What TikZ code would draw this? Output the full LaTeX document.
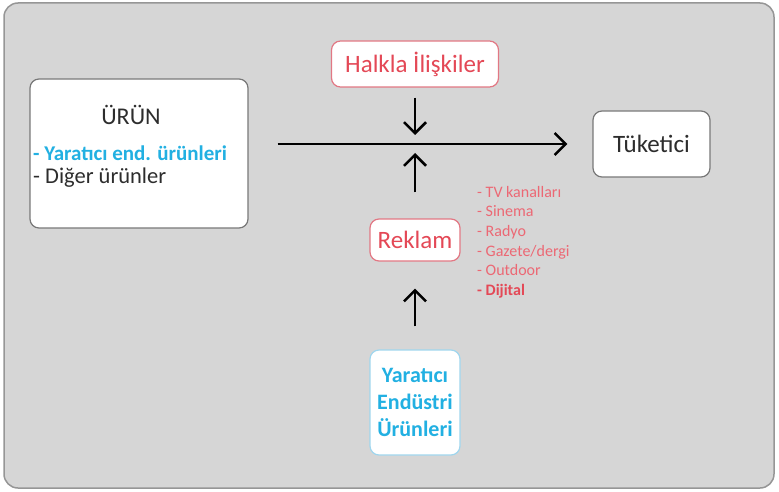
\documentclass[tikz,border=0pt]{standalone}
\usepackage{fontspec}
\setmainfont{Carlito}
\usetikzlibrary{arrows.meta, positioning}

\definecolor{panelgray}{RGB}{214,214,214}
\definecolor{edgegray}{RGB}{150,150,150}
\definecolor{boxgray}{RGB}{120,120,120}
\definecolor{pinkline}{RGB}{226,120,132}
\definecolor{blueline}{RGB}{160,214,238}
\definecolor{redtext}{RGB}{228,72,86}
\definecolor{mediared}{RGB}{236,104,116}
\definecolor{cyantext}{RGB}{34,176,226}
\definecolor{darktext}{RGB}{45,45,45}

\tikzset{
  whitebox/.style={draw=boxgray, fill=white, rounded corners=9pt, line width=1.2pt, inner sep=0pt},
  redbox/.style={whitebox, draw=pinkline, text=redtext, font=\fontsize{25}{30}\selectfont},
  bluebox/.style={whitebox, draw=blueline, text=cyantext, align=center, font=\fontsize{22}{27}\selectfont\bfseries},
  flow/.style={line width=2.5pt, -{Straight Barb[length=11pt,width=22pt]}}
}

\begin{document}
\begin{tikzpicture}[x=1pt, y=-1pt]
\useasboundingbox (0,0) rectangle (779,492);
\draw[draw=edgegray, fill=panelgray, line width=1.5pt, rounded corners=14pt] (4,3) rectangle (774,488);

% urun kutusu
\node[whitebox, minimum width=218pt, minimum height=149pt] (urun) at (139,153.5) {};
\node[text=darktext, font=\fontsize{24}{28}\selectfont] (urunlabel) at (131,115) {ÜRÜN};
\node[anchor=west, inner sep=0pt, text=cyantext, font=\fontsize{21}{27}\selectfont\bfseries] (yaraticiend) at (33,153) {- Yaratıcı end. ürünleri};
\node[anchor=west, inner sep=0pt, text=darktext, font=\fontsize{22.5}{27}\selectfont] (diger) at (33,178) {- Diğer ürünler};

\node[redbox, minimum width=167pt, minimum height=46pt] (halkla) at (415,64) {Halkla İlişkiler};
\node[whitebox, minimum width=117pt, minimum height=66pt, text=darktext, font=\fontsize{25}{30}\selectfont] (tuketici) at (651.5,144) {Tüketici};
\node[redbox, minimum width=90pt, minimum height=42pt] (reklam) at (415,240) {Reklam};
\node[bluebox, minimum width=90pt, minimum height=105pt] (yaratici) at (415,402.5) {Yaratıcı\\Endüstri\\Ürünleri};

\node[anchor=west, inner sep=0pt, align=left, text=mediared, font=\fontsize{16}{19.6}\selectfont] (medya) at (477,242)
  {- TV kanalları\\- Sinema\\- Radyo\\- Gazete/dergi\\- Outdoor\\{\color{redtext}\bfseries - Dijital}};

\coordinate (kesisim) at (halkla.south |- tuketici.west);
\draw[flow] ([xshift=29pt]urun.east |- tuketici.west) -- ([xshift=-25pt]tuketici.west);
\draw[flow] ([yshift=-10pt]halkla.south) -- ([yshift=9pt]kesisim);
\draw[flow] ([yshift=26pt]reklam.north) -- ([yshift=-9pt]kesisim);
\draw[flow] ([yshift=23pt]yaratici.north) -- ([yshift=-27pt]reklam.south);

\end{tikzpicture}
\end{document}
